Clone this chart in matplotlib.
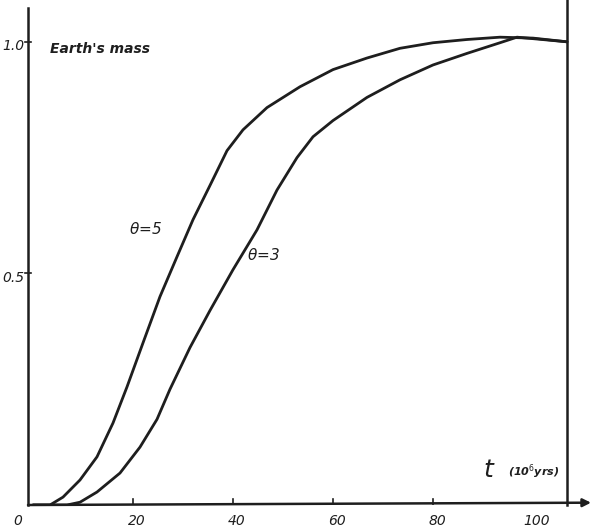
import numpy as np
import matplotlib.pyplot as plt

# growth curves (t in 10^6 yrs, fraction of Earth's mass)
t_theta5 = [0, 3.4, 6, 9.4, 12.8, 16, 18.8, 22, 25.4, 28.8, 32, 35.4, 38.8, 42,
            46.8, 53.4, 60, 66.8, 73.4, 80, 86.8, 93.4, 100, 106.8]
m_theta5 = [0, 0, 0.017, 0.054, 0.104, 0.177, 0.255, 0.35, 0.45, 0.536, 0.616, 0.69,
            0.765, 0.81, 0.858, 0.903, 0.94, 0.965, 0.986, 0.998, 1.005, 1.01, 1.008, 1.0]

t_theta3 = [0, 6.8, 9.4, 12.8, 17.4, 21.4, 24.8, 27.4, 31.4, 35.4, 40, 44.8, 48.8,
            52.8, 56, 60, 66.8, 73.4, 80, 86.8, 93.4, 96.8, 106.8]
m_theta3 = [0, 0, 0.006, 0.028, 0.069, 0.125, 0.185, 0.25, 0.34, 0.42, 0.508, 0.594,
            0.68, 0.75, 0.795, 0.83, 0.88, 0.918, 0.95, 0.975, 0.998, 1.01, 1.0]

xticks = [20, 40, 60, 80]
yticks = [0.5, 1.0]
ytick_labels = ['0.5', '1.0']

ink = '#1e1e1e'

fig = plt.figure(figsize=(5.91, 5.27), dpi=100)
ax = fig.add_axes([28 / 591, 22 / 527, 563 / 591, 497 / 527])
ax.set_xlim(-1, 111.6)
ax.set_ylim(0, 1.073)
for s in ax.spines.values():
    s.set_visible(False)

# curves
ax.plot(t_theta5, m_theta5, color=ink, lw=2.0, solid_joinstyle='round',
        solid_capstyle='round')
ax.plot(t_theta3, m_theta3, color=ink, lw=2.0, solid_joinstyle='round',
        solid_capstyle='round')

# axes drawn by hand
ax.plot([-1, -1], [0, 1.073], color=ink, lw=1.8, clip_on=False)
ax.annotate('', xy=(111.6, 0.005), xytext=(-1, 0),
            arrowprops=dict(arrowstyle='-|>', color=ink, lw=1.8,
                            mutation_scale=12, shrinkA=0, shrinkB=0),
            annotation_clip=False)
ax.plot([106.8, 106.8], [0, 1.09], color=ink, lw=1.8, clip_on=False)

# ticks
ax.set_xticks([])
ax.set_yticks([])
for x in xticks:
    ax.plot([x, x], [-0.004, 0.012], color=ink, lw=1.2)
    ax.text(x + 0.8, -0.02, str(x), ha='center', va='top', fontsize=10,
            style='italic', color=ink)
ax.text(100.8, -0.02, '100', ha='center', va='top', fontsize=10,
        style='italic', color=ink)
ax.text(-3, -0.02, '0', ha='center', va='top', fontsize=10,
        style='italic', color=ink)
for y, lab in zip(yticks, ytick_labels):
    ax.plot([-1.6, -0.4], [y, y], color=ink, lw=1.2, clip_on=False)
    ax.text(-1.8, y - 0.01, lab, ha='right', va='center', fontsize=10,
            style='italic', color=ink)

# labels
ax.text(3.5, 0.985, "Earth's mass", ha='left', va='center', fontsize=10,
        style='italic', fontweight='bold', color=ink)
ax.text(90, 0.075, r'$t$', ha='left', va='center', fontsize=18,
        style='italic', color=ink)
ax.text(95, 0.072, r'(10$^6$yrs)', ha='left', va='center', fontsize=8,
        style='italic', fontweight='bold', color=ink)
ax.text(22.5, 0.595, r'$\theta$=5', ha='center', va='center', fontsize=11,
        style='italic', color=ink)
ax.text(46, 0.54, r'$\theta$=3', ha='center', va='center', fontsize=11,
        style='italic', color=ink)

fig.savefig('out.png', dpi=100)
